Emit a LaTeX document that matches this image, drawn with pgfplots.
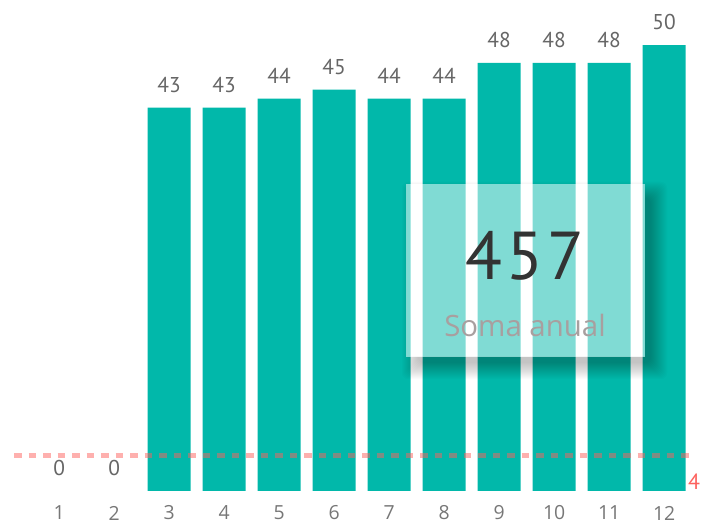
\documentclass[border=0pt]{standalone}
\usepackage{fontspec}
\setmainfont{Open Sans}
\newfontfamily\dinfont{PT Sans}
\usepackage{pgfplots}
\pgfplotsset{compat=1.18}
\definecolor{teal1}{HTML}{01B8AA}
\definecolor{lblgray}{HTML}{666666}
\definecolor{tickgray}{HTML}{777777}
\definecolor{refred}{HTML}{FD625E}
\definecolor{darktxt}{HTML}{333333}
\definecolor{softgray}{HTML}{A89F9F}
\begin{document}
\begin{tikzpicture}[x=1bp,y=1bp]
\path[use as bounding box] (0,0) rectangle (705,525);
\begin{axis}[
  at={(14bp,34bp)}, anchor=south west,
  scale only axis, width=676bp, height=481.5bp,
  xmin=0.18, xmax=12.47, ymin=0, ymax=54,
  axis line style={draw=none},
  tick style={draw=none}, major tick length=0pt,
  ytick=\empty,
  xtick={1,2,3,4,5,6,7,8,9,10,11,12},
  xticklabels={1,2,3,4,5,6,7,8,9,10,11,12},
  xticklabel style={font=\fontsize{19.5}{19.5}\selectfont, text=tickgray, anchor=center, yshift=-22bp},
  /pgf/number format/assume math mode=true,
  clip=false,
  lbl/.style={nodes near coords,
    every node near coord/.append style={font=\dinfont\fontsize{21.5}{21.5}\selectfont, text=lblgray, anchor=center, yshift=23bp}},
]
\addplot[ybar, bar width=43bp, fill=teal1, draw=none, lbl]
  coordinates {(3,43) (4,43) (5,44) (6,45) (7,44) (8,44) (9,48) (10,48) (11,48) (12,50)};
\addplot[draw=none, no marks, lbl]
  coordinates {(1,0) (2,0)};
\addplot[sharp plot, no marks, refred, opacity=0.5, line width=5.5bp, dash pattern=on 7.5bp off 7bp]
  coordinates {(0.18,4) (12.47,4)};
\node[anchor=base west, inner sep=0pt, text=refred, font=\dinfont\fontsize{22}{22}\selectfont, xshift=-2bp, yshift=1bp] at (axis cs:12.47,0) {4};
\end{axis}
% card shadow (outside the card only)
\begin{scope}[even odd rule]
  \clip (0,0) rectangle (705,525) (406,168) rectangle (645,341);
  \foreach \i in {0,...,16} {
    \fill[black, opacity=0.017, rounded corners=6bp]
      ({414-\i+4},{158-\i+4}) rectangle ({655+\i-4},{331+\i-4});
  }
\end{scope}
% card
\fill[white, opacity=0.5] (406,168) rectangle (645,341);
\node[text=darktxt, font=\dinfont\fontsize{68}{68}\selectfont] at (525,269) {4\kern4bp5\kern4bp7};
\node[text=softgray, font=\fontsize{29.5}{29.5}\selectfont] at (525,200) {Soma anual};
\end{tikzpicture}
\end{document}
